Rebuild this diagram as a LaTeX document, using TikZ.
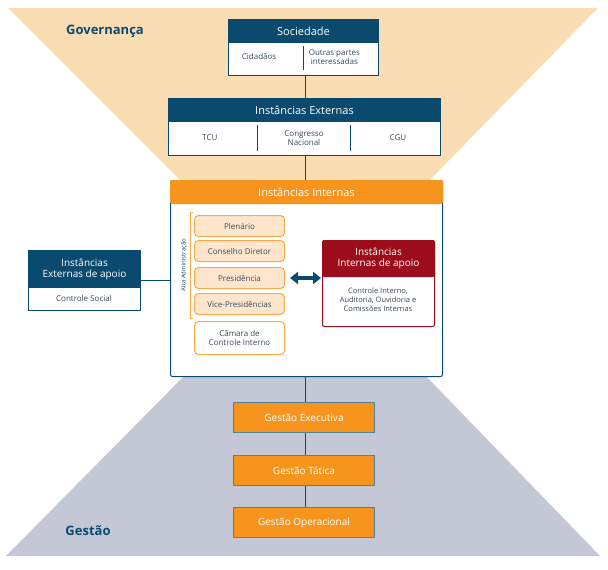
\documentclass[tikz,border=0pt]{standalone}
\usepackage{fontspec}
\setmainfont{Open Sans}
\usetikzlibrary{arrows.meta}
\definecolor{navy}{HTML}{0B4A6F}
\definecolor{tang}{HTML}{F7941D}
\definecolor{peach}{HTML}{FBDDB4}
\definecolor{lpeach}{HTML}{FDE6CB}
\definecolor{wine}{HTML}{9B0D1A}
\definecolor{slate}{HTML}{C4C7D6}
\definecolor{txt}{HTML}{3A4A5A}
\tikzset{
  head/.style={draw=#1,fill=#1,text=white,minimum height=23pt,font=\fontsize{11}{12}\selectfont,anchor=north west},
  cell/.style={draw=navy,fill=white,text=txt,anchor=north west,align=center,font=\fontsize{8}{9}\selectfont},
  role/.style={draw=tang!80,fill=lpeach,rounded corners=4pt,text=txt,minimum width=90pt,anchor=north west,font=\fontsize{8}{9}\selectfont,align=center},
  gest/.style={draw=navy!70,fill=tang,text=white,minimum width=141pt,minimum height=30pt,anchor=north west,font=\fontsize{10}{11}\selectfont}
}
\begin{document}
\begin{tikzpicture}[x=1pt,y=-1pt,line width=1pt]
   \useasboundingbox (0,0) rectangle (608,570);
   % background
   \fill[peach] (8,8) -- (598,8) -- (420,190) -- (190,190) -- cycle;
   \fill[slate] (190,370) -- (420,370) -- (600,556) -- (6,556) -- cycle;
   \node[text=navy,font=\bfseries\fontsize{13}{14}\selectfont] (gov) at (105,31) {Governança};
   \node[text=navy,font=\bfseries\fontsize{13}{14}\selectfont] (ges) at (88,531) {Gestão};
   % spine
   \coordinate (top) at (305,75);
   \coordinate (bot) at (305,507);
   \draw[navy] (top) -- (bot);
   % Sociedade
   \node[cell,minimum width=150pt,minimum height=33pt] (socb) at (228,42) {};
   \node[head=navy,minimum width=150pt] (soc) at (228,19) {Sociedade};
   \node[cell,draw=none,fill=none] (cid) at (238,50) {Cidadãos};
   \node[cell,draw=none,fill=none] (out) at (305,46) {Outras partes\\interessadas};
   \draw[navy,line width=0.6pt] (303,46) -- (303,70);
   % Instancias externas
   \node[cell,minimum width=272pt,minimum height=34pt] (extb) at (168,121) {};
   \node[head=navy,minimum width=272pt] (ext) at (168,98) {Instâncias Externas};
   \node[text=txt,font=\fontsize{8}{9}\selectfont] (tcu) at (210,138) {TCU};
   \node[text=txt,font=\fontsize{8}{9}\selectfont,align=center] (cn) at (304,138) {Congresso\\Nacional};
   \node[text=txt,font=\fontsize{8}{9}\selectfont] (cgu) at (398,138) {CGU};
   \draw[navy,line width=0.6pt] (257,125) -- (257,151) (350,125) -- (350,151);
   % Instancias internas
   \node[draw=navy,fill=white,rounded corners=2pt,minimum width=272pt,minimum height=196pt,anchor=north west] (intb) at (170,180) {};
   \node[head=tang,minimum width=272pt,rounded corners=2pt] (int) at (170,180) {Instâncias Internas};
   \node[role,minimum height=21pt] (ple) at (194,215) {Plenário};
   \node[role,minimum height=21pt] (cd) at (194,240) {Conselho Diretor};
   \node[role,minimum height=21pt] (pre) at (194,267) {Presidência};
   \node[role,minimum height=21pt] (vp) at (194,293) {Vice-Presidências};
   \node[role,fill=white,minimum height=33pt] (cam) at (194,321) {Câmara de\\Controle Interno};
   \draw[tang!80,line width=0.8pt] (193,212) -- (190,212) -- (190,318) -- (193,318);
   \node[rotate=90,text=navy,font=\fontsize{6}{7}\selectfont] (alta) at (184,265) {Alta Administração};
   % apoio interno
   \node[draw=wine,fill=white,rounded corners=2pt,minimum width=112pt,minimum height=86pt,anchor=north west] (apib) at (322,240) {};
   \node[head=wine,minimum width=112pt,minimum height=36pt,align=center,rounded corners=2pt,font=\fontsize{10}{11}\selectfont] (api) at (322,240) {Instâncias\\Internas de apoio};
   \node[text=txt,align=center,font=\fontsize{7.5}{9}\selectfont] (apit) at (378,300) {Controle Interno,\\Auditoria, Ouvidoria e\\Comissões Internas};
   \draw[{Triangle[length=8pt,width=12pt]}-{Triangle[length=8pt,width=12pt]},navy,line width=4pt] (pre.east) ++(5,0) -- ++(31,0);
   % apoio externo
   \node[draw=navy,fill=white,minimum width=112pt,minimum height=60pt,anchor=north west] (apeb) at (28,250) {};
   \node[head=navy,minimum width=112pt,minimum height=37pt,align=center,font=\fontsize{10}{11}\selectfont] (ape) at (28,250) {Instâncias\\Externas de apoio};
   \node[text=txt,font=\fontsize{8}{9}\selectfont] (cs) at (84,298) {Controle Social};
   \draw[navy] (apeb.east |- 0,280) -- (intb.west |- 0,280);
   % gestao
   \node[gest] (exe) at (233,402) {Gestão Executiva};
   \node[gest] (tat) at (233,455) {Gestão Tática};
   \node[gest] (ope) at (233,507) {Gestão Operacional};
\end{tikzpicture}
\end{document}
